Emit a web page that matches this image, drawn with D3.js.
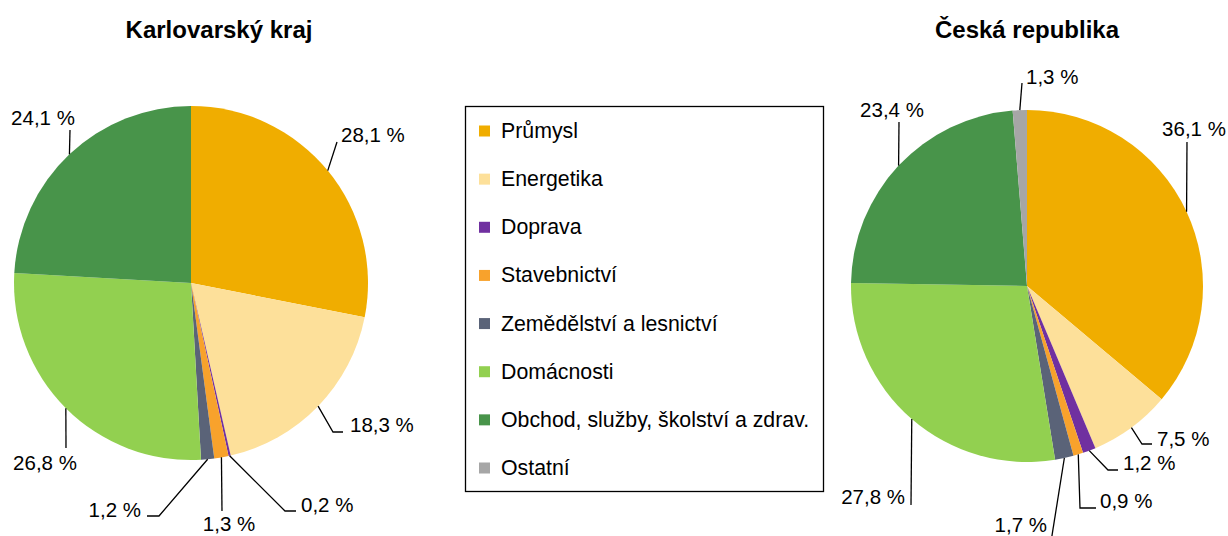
<!DOCTYPE html>
<html>
<head>
<meta charset="utf-8">
<script src="https://cdn.jsdelivr.net/npm/d3@7"></script>
<style>
    body { margin: 0; background: #fff; }
    svg { font-family: 'Liberation Sans', Arial, sans-serif; }
</style>
</head>
<body>
<div id="chart"></div>
<script>
// sectors of energy consumption (%)
const categories = ['Průmysl', 'Energetika', 'Doprava', 'Stavebnictví',
    'Zemědělství a lesnictví', 'Domácnosti', 'Obchod, služby, školství a zdrav.', 'Ostatní'];
const karlovarskyValues = [28.1, 18.3, 0.2, 1.3, 1.2, 26.8, 24.1, 0];
const ceskaValues = [36.1, 7.5, 1.2, 0.9, 1.7, 27.8, 23.4, 1.3];
const pieTitles = ['Karlovarský kraj', 'Česká republika'];
const sliceColors = ['#f0ad00', '#fde09a', '#7030a0', '#f8a22c', '#5a6378', '#92d050', '#48944a', '#a6a6a6'];

// label layout, relative to pie center: leader points after the arc edge, text position
const karlovarskyLabels = [
    { pts: [[146, -141]], t: [150, -141], a: 'start' },
    { pts: [[142, 149], [152, 149]], t: [159, 149], a: 'start' },
    { pts: [[94, 228], [105, 228]], t: [110, 229], a: 'start' },
    { pts: [[31, 228]], t: [38, 248], a: 'middle' },
    { pts: [[-32, 233], [-44, 233]], t: [-50, 234], a: 'end' },
    { pts: [[-125, 165]], t: [-146, 187], a: 'middle' },
    { pts: [[-121, -153]], t: [-148, -158], a: 'middle' },
    null
];
const ceskaLabels = [
    { pts: [[160, -144]], t: [167, -150], a: 'middle' },
    { pts: [[115, 158], [125, 158]], t: [130, 160], a: 'start' },
    { pts: [[81, 184], [91, 184]], t: [96, 184], a: 'start' },
    { pts: [[53, 222], [69, 222]], t: [73, 222], a: 'start' },
    { pts: [[23, 262]], t: [20, 246], a: 'end' },
    { pts: [[-116, 219]], t: [-122, 218], a: 'end' },
    { pts: [[-128, -164]], t: [-135, -169], a: 'middle' },
    { pts: [[-5, -203]], t: [-1, -202], a: 'start' }
];

const width = 1228;
const height = 536;
const fontSize = 20.5;

const svg = d3.select('#chart').append('svg')
    .attr('width', width)
    .attr('height', height);

const color = d3.scaleOrdinal()
    .domain(categories)
    .range(sliceColors);

const pie = d3.pie()
    .sort(null)
    .value(d => d.value);

function fmt(v) {
    return d3.format('.1f')(v).replace('.', ',') + ' %';
}

function drawPie(values, labels, cx, cy, radius, title, titleX) {
    const data = categories.map((c, i) => ({ name: c, value: values[i], label: labels[i] }));
    const arcs = pie(data);
    const arc = d3.arc().innerRadius(0).outerRadius(radius);

    svg.append('text')
        .attr('x', titleX)
        .attr('y', 38)
        .attr('text-anchor', 'middle')
        .attr('font-size', 24)
        .attr('font-weight', 'bold')
        .text(title);

    const g = svg.append('g')
        .attr('transform', 'translate(' + cx + ',' + cy + ')');

    g.selectAll('path.slice')
        .data(arcs.filter(a => a.data.value > 0))
        .enter()
        .append('path')
        .attr('class', 'slice')
        .attr('d', arc)
        .attr('fill', a => color(a.data.name));

    const withLabels = arcs.filter(a => a.data.value > 0 && a.data.label);

    // leader lines start on the pie edge at the slice's mid angle
    g.selectAll('path.leader')
        .data(withLabels)
        .enter()
        .append('path')
        .attr('class', 'leader')
        .attr('fill', 'none')
        .attr('stroke', '#000')
        .attr('stroke-width', 1.3)
        .attr('d', a => {
            const mid = (a.startAngle + a.endAngle) / 2;
            const start = [radius * Math.sin(mid), -radius * Math.cos(mid)];
            return d3.line()([start].concat(a.data.label.pts));
        });

    g.selectAll('text.value')
        .data(withLabels)
        .enter()
        .append('text')
        .attr('class', 'value')
        .attr('x', a => a.data.label.t[0])
        .attr('y', a => a.data.label.t[1])
        .attr('text-anchor', a => a.data.label.a)
        .attr('font-size', fontSize)
        .attr('fill', '#000')
        .text(a => fmt(a.data.value));
}

drawPie(karlovarskyValues, karlovarskyLabels, 191, 283, 177, pieTitles[0], 219);
drawPie(ceskaValues, ceskaLabels, 1027, 286, 176, pieTitles[1], 1027);

// legend
const legend = svg.append('g');
legend.append('rect')
    .attr('x', 465.5)
    .attr('y', 106.5)
    .attr('width', 358)
    .attr('height', 385)
    .attr('fill', 'none')
    .attr('stroke', '#000')
    .attr('stroke-width', 1.3);

const legendY = d3.scalePoint()
    .domain(categories)
    .range([131, 468]);

const items = legend.selectAll('g.item')
    .data(categories)
    .enter()
    .append('g')
    .attr('class', 'item')
    .attr('transform', c => 'translate(0,' + legendY(c) + ')');

items.append('rect')
    .attr('x', 479)
    .attr('y', -5.5)
    .attr('width', 11)
    .attr('height', 11)
    .attr('fill', c => color(c));

items.append('text')
    .attr('x', 501)
    .attr('y', 7)
    .attr('font-size', 21.3)
    .attr('fill', '#000')
    .text(c => c);
</script>
</body>
</html>
